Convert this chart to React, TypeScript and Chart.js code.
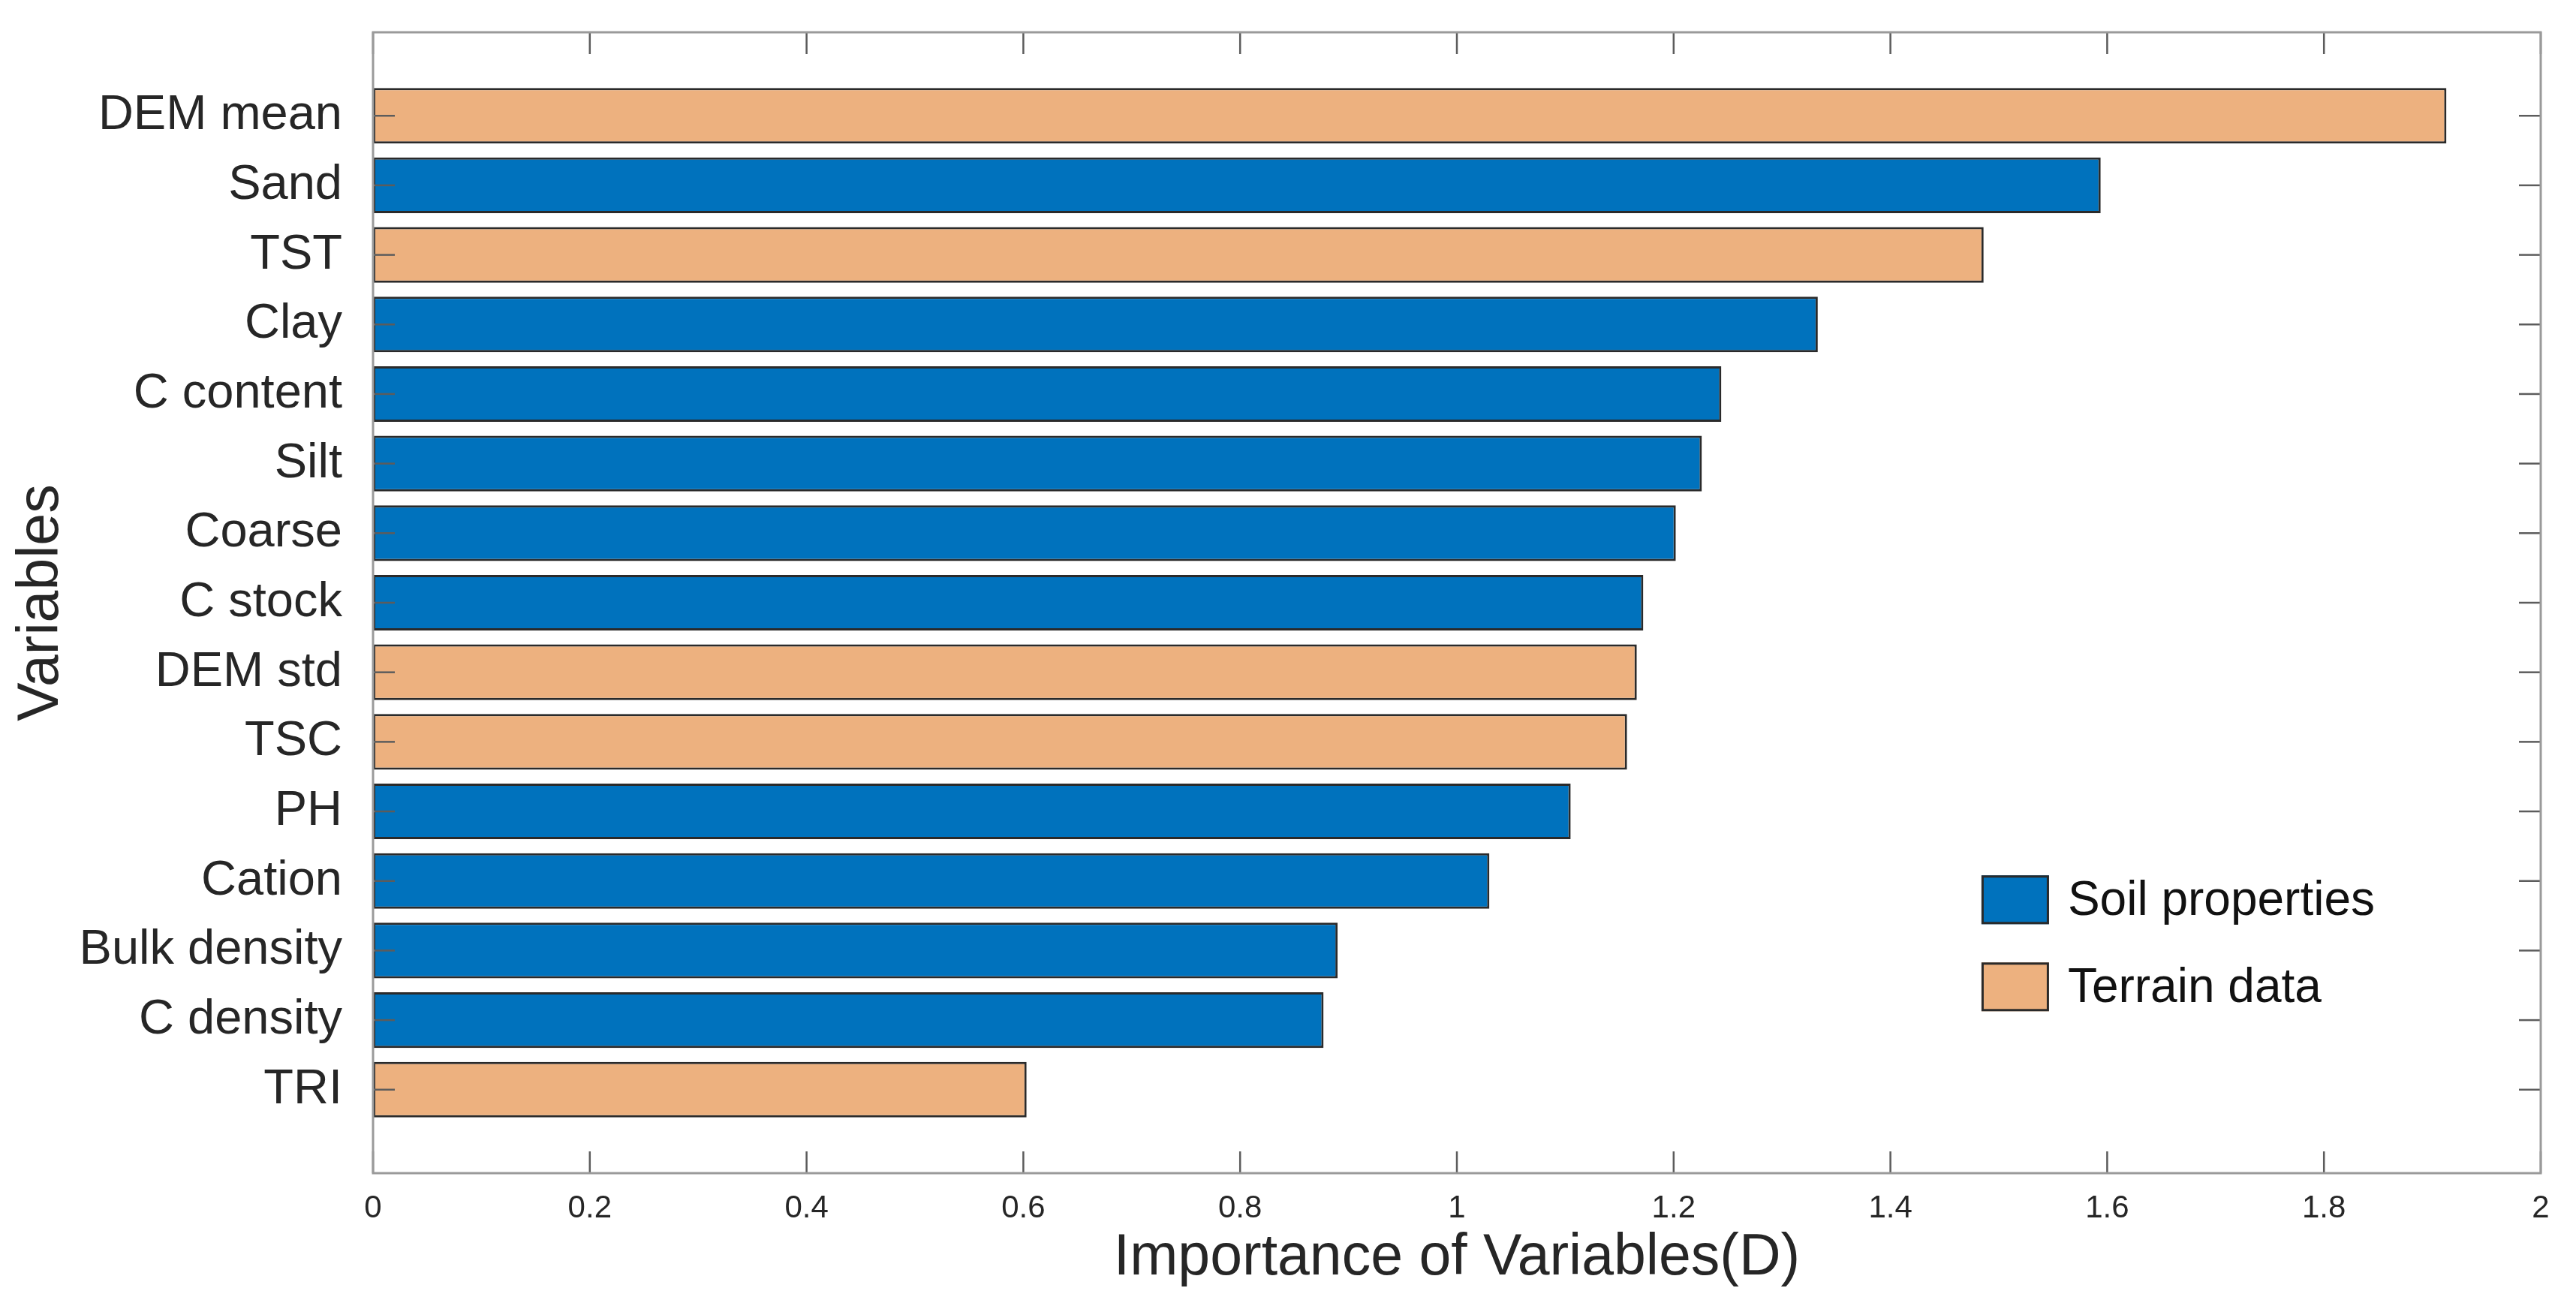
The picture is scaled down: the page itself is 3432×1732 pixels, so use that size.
import React, { useEffect, useRef } from "react";
import { Chart, registerables } from "chart.js";

Chart.register(...registerables);

// ---- data ----
const categories = [
  "DEM mean",
  "Sand",
  "TST",
  "Clay",
  "C content",
  "Silt",
  "Coarse",
  "C stock",
  "DEM std",
  "TSC",
  "PH",
  "Cation",
  "Bulk density",
  "C density",
  "TRI",
];
const importance = [
  1.913, 1.594, 1.486, 1.333, 1.244, 1.226, 1.202, 1.172, 1.166, 1.157, 1.105,
  1.03, 0.89, 0.877, 0.603,
];
const groups = [
  "Terrain data",
  "Soil properties",
  "Terrain data",
  "Soil properties",
  "Soil properties",
  "Soil properties",
  "Soil properties",
  "Soil properties",
  "Terrain data",
  "Terrain data",
  "Soil properties",
  "Soil properties",
  "Soil properties",
  "Soil properties",
  "Terrain data",
];
const seriesNames = ["Soil properties", "Terrain data"];
const seriesColors = ["#0072BD", "#EDB17F"];
const xTickValues = [0, 0.2, 0.4, 0.6, 0.8, 1, 1.2, 1.4, 1.6, 1.8, 2];
const xTickLabels = ["0", "0.2", "0.4", "0.6", "0.8", "1", "1.2", "1.4", "1.6", "1.8", "2"];
const xTitle = "Importance of Variables(D)";
const yTitle = "Variables";

const FONT = '"Liberation Sans", Arial, Helvetica, sans-serif';
const W = 3432;
const H = 1732;

const framePlugin = {
  id: "matlabFrame",
  afterDatasetsDraw(chart: any) {
    const { ctx, chartArea: a, scales } = chart;
    const L = 29;
    ctx.save();
    ctx.strokeStyle = "#5c5c5c";
    ctx.lineWidth = 2.5;
    const line = (x1: number, y1: number, x2: number, y2: number) => {
      ctx.beginPath();
      ctx.moveTo(x1, y1);
      ctx.lineTo(x2, y2);
      ctx.stroke();
    };
    scales.x.ticks.forEach((t: any) => {
      const px = scales.x.getPixelForValue(t.value);
      line(px, a.bottom, px, a.bottom - L);
      line(px, a.top, px, a.top + L);
    });
    scales.y.ticks.forEach((t: any) => {
      const py = scales.y.getPixelForValue(t.value);
      line(a.left, py, a.left + L, py);
      line(a.right, py, a.right - L, py);
    });
    ctx.strokeStyle = "#9a9a9a";
    ctx.lineWidth = 3;
    ctx.strokeRect(a.left, a.top, a.right - a.left, a.bottom - a.top);
    ctx.restore();
  },
};

const legendPlugin = {
  id: "insideLegend",
  afterDraw(chart: any) {
    const { ctx, chartArea: a } = chart;
    const x0 = a.left + 0.742 * (a.right - a.left);
    const y0 = a.top + 0.739 * (a.bottom - a.top);
    ctx.save();
    chart.data.datasets.forEach((ds: any, i: number) => {
      const y = y0 + i * 116;
      ctx.fillStyle = ds.backgroundColor;
      ctx.fillRect(x0, y, 90, 65);
      ctx.strokeStyle = "#2a2a2a";
      ctx.lineWidth = 3;
      ctx.strokeRect(x0 + 1.5, y + 1.5, 87, 62);
      ctx.fillStyle = "#111111";
      ctx.font = `64px ${FONT}`;
      ctx.textBaseline = "middle";
      ctx.textAlign = "left";
      ctx.fillText(ds.label, x0 + 115, y + 35);
    });
    ctx.restore();
  },
};

export default function App() {
  const canvasRef = useRef<HTMLCanvasElement | null>(null);

  useEffect(() => {
    document.body.style.margin = "0";
    const canvas = canvasRef.current;
    if (!canvas) return;

    const datasets = seriesNames.map((name, s) => ({
      label: name,
      data: categories
        .map((c, i) => (groups[i] === name ? { x: importance[i], y: i + 1 } : null))
        .filter((d) => d !== null),
      backgroundColor: seriesColors[s],
      borderColor: "#2a2a2a",
      borderWidth: 3,
      borderSkipped: false,
      grouped: false,
      barPercentage: 0.8,
      categoryPercentage: 1,
    }));

    const chart = new Chart(canvas, {
      type: "bar",
      data: { datasets: datasets as any },
      plugins: [framePlugin, legendPlugin],
      options: {
        indexAxis: "y",
        animation: false,
        responsive: false,
        devicePixelRatio: 1,
        layout: { padding: { left: 0, right: 47, top: 43, bottom: 0 } },
        plugins: {
          legend: { display: false },
          tooltip: { enabled: false },
        },
        scales: {
          x: {
            type: "linear",
            position: "bottom",
            min: 0,
            max: 2,
            offset: false,
            afterBuildTicks: (s: any) => {
              s.ticks = xTickValues.map((v) => ({ value: v }));
            },
            afterFit: (s: any) => {
              s.height = H - 1563;
              s.paddingLeft = 0;
              s.paddingRight = 0;
            },
            ticks: {
              autoSkip: false,
              maxRotation: 0,
              padding: 22,
              color: "#262626",
              font: { size: 42, family: FONT },
              callback: (_v: any, i: number) => xTickLabels[i],
            },
            grid: { display: false, drawTicks: false, offset: false },
            border: { display: false },
            title: {
              display: true,
              text: xTitle,
              color: "#262626",
              font: { size: 77, family: FONT },
              padding: { top: 0, bottom: 9 },
            },
          },
          y: {
            type: "linear",
            position: "left",
            min: -0.2,
            max: 16.2,
            reverse: true,
            offset: false,
            afterBuildTicks: (s: any) => {
              s.ticks = categories.map((_, i) => ({ value: i + 1 }));
            },
            afterFit: (s: any) => {
              s.width = 497;
              s.paddingTop = 0;
              s.paddingBottom = 0;
            },
            ticks: {
              autoSkip: false,
              padding: 41,
              color: "#262626",
              font: { size: 65, family: FONT },
              callback: (_v: any, i: number) => categories[i],
            },
            grid: { display: false, drawTicks: false, offset: false },
            border: { display: false },
            title: {
              display: true,
              text: yTitle,
              color: "#262626",
              font: { size: 77, family: FONT },
              padding: { top: 10, bottom: 0 },
            },
          },
        },
      },
    } as any);

    return () => chart.destroy();
  }, []);

  return (
    <div style={{ width: W, height: H, background: "#ffffff" }}>
      <canvas ref={canvasRef} width={W} height={H} style={{ display: "block", width: W, height: H }} />
    </div>
  );
}
